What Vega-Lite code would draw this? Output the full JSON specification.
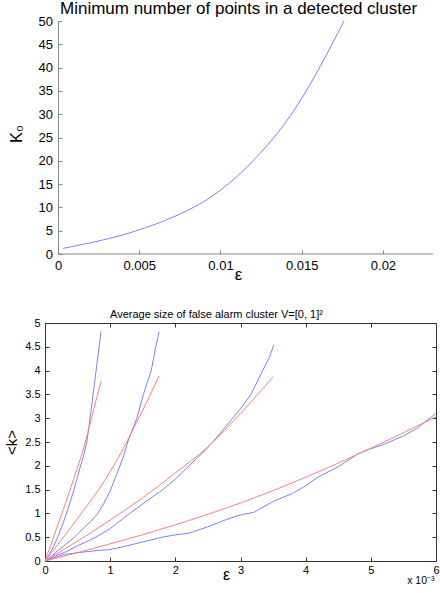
{
  "$schema": "https://vega.github.io/schema/vega-lite/v6.json",
  "padding": {"left": 4, "top": 0, "right": 0, "bottom": 0},
  "background": "white",
  "spacing": 26,
  "config": {
    "view": {"stroke": null},
    "font": "Liberation Sans",
    "axis": {"labelFont": "Liberation Sans", "titleFont": "Liberation Sans", "grid": false, "labelColor": "#000", "titleColor": "#000", "titleFontWeight": "normal", "labelFlush": false, "labelOverlap": false}
  },
  "datasets": {
    "top": [
      {"eps": 0.0003, "K": 1.2}, {"eps": 0.001, "K": 1.7}, {"eps": 0.002, "K": 2.4}, {"eps": 0.003, "K": 3.2},
      {"eps": 0.004, "K": 4.1}, {"eps": 0.005, "K": 5.2}, {"eps": 0.006, "K": 6.4}, {"eps": 0.007, "K": 7.8},
      {"eps": 0.008, "K": 9.4}, {"eps": 0.009, "K": 11.3}, {"eps": 0.010, "K": 13.7}, {"eps": 0.011, "K": 16.6},
      {"eps": 0.012, "K": 20.0}, {"eps": 0.013, "K": 23.8}, {"eps": 0.014, "K": 28.2}, {"eps": 0.015, "K": 33.4},
      {"eps": 0.016, "K": 39.4}, {"eps": 0.017, "K": 45.9}, {"eps": 0.0176, "K": 50.0}
    ],
    "bottom": [
      {"set": "1", "type": "sim", "x": 0, "k": 0}, {"set": "1", "type": "sim", "x": 0.05, "k": 0.1},
      {"set": "1", "type": "sim", "x": 0.1, "k": 0.22}, {"set": "1", "type": "sim", "x": 0.15, "k": 0.36},
      {"set": "1", "type": "sim", "x": 0.2, "k": 0.52}, {"set": "1", "type": "sim", "x": 0.25, "k": 0.7},
      {"set": "1", "type": "sim", "x": 0.3, "k": 0.88}, {"set": "1", "type": "sim", "x": 0.35, "k": 1.08},
      {"set": "1", "type": "sim", "x": 0.4, "k": 1.3}, {"set": "1", "type": "sim", "x": 0.45, "k": 1.52},
      {"set": "1", "type": "sim", "x": 0.5, "k": 1.77}, {"set": "1", "type": "sim", "x": 0.55, "k": 2.02},
      {"set": "1", "type": "sim", "x": 0.6, "k": 2.25}, {"set": "1", "type": "sim", "x": 0.64, "k": 2.5},
      {"set": "1", "type": "sim", "x": 0.67, "k": 2.77}, {"set": "1", "type": "sim", "x": 0.7, "k": 3.1},
      {"set": "1", "type": "sim", "x": 0.75, "k": 3.63}, {"set": "1", "type": "sim", "x": 0.8, "k": 4.17},
      {"set": "1", "type": "sim", "x": 0.86, "k": 4.82},
      {"set": "1", "type": "theory", "x": 0, "k": 0}, {"set": "1", "type": "theory", "x": 0.1, "k": 0.38},
      {"set": "1", "type": "theory", "x": 0.2, "k": 0.77}, {"set": "1", "type": "theory", "x": 0.3, "k": 1.16},
      {"set": "1", "type": "theory", "x": 0.4, "k": 1.56}, {"set": "1", "type": "theory", "x": 0.5, "k": 1.97},
      {"set": "1", "type": "theory", "x": 0.6, "k": 2.4}, {"set": "1", "type": "theory", "x": 0.67, "k": 2.77},
      {"set": "1", "type": "theory", "x": 0.75, "k": 3.2}, {"set": "1", "type": "theory", "x": 0.86, "k": 3.77},

      {"set": "2", "type": "sim", "x": 0, "k": 0}, {"set": "2", "type": "sim", "x": 0.1, "k": 0.1},
      {"set": "2", "type": "sim", "x": 0.2, "k": 0.22}, {"set": "2", "type": "sim", "x": 0.32, "k": 0.35},
      {"set": "2", "type": "sim", "x": 0.45, "k": 0.5}, {"set": "2", "type": "sim", "x": 0.6, "k": 0.7},
      {"set": "2", "type": "sim", "x": 0.7, "k": 0.83}, {"set": "2", "type": "sim", "x": 0.8, "k": 0.98},
      {"set": "2", "type": "sim", "x": 0.9, "k": 1.2}, {"set": "2", "type": "sim", "x": 1.0, "k": 1.47},
      {"set": "2", "type": "sim", "x": 1.1, "k": 1.82}, {"set": "2", "type": "sim", "x": 1.2, "k": 2.18},
      {"set": "2", "type": "sim", "x": 1.27, "k": 2.5}, {"set": "2", "type": "sim", "x": 1.34, "k": 2.75},
      {"set": "2", "type": "sim", "x": 1.41, "k": 3.0}, {"set": "2", "type": "sim", "x": 1.51, "k": 3.5},
      {"set": "2", "type": "sim", "x": 1.57, "k": 3.75}, {"set": "2", "type": "sim", "x": 1.63, "k": 4.0},
      {"set": "2", "type": "sim", "x": 1.7, "k": 4.5}, {"set": "2", "type": "sim", "x": 1.75, "k": 4.82},
      {"set": "2", "type": "theory", "x": 0, "k": 0}, {"set": "2", "type": "theory", "x": 0.2, "k": 0.35},
      {"set": "2", "type": "theory", "x": 0.4, "k": 0.71}, {"set": "2", "type": "theory", "x": 0.6, "k": 1.08},
      {"set": "2", "type": "theory", "x": 0.83, "k": 1.51}, {"set": "2", "type": "theory", "x": 1.0, "k": 1.88},
      {"set": "2", "type": "theory", "x": 1.2, "k": 2.36}, {"set": "2", "type": "theory", "x": 1.4, "k": 2.9},
      {"set": "2", "type": "theory", "x": 1.6, "k": 3.45}, {"set": "2", "type": "theory", "x": 1.75, "k": 3.89},

      {"set": "3", "type": "sim", "x": 0, "k": 0}, {"set": "3", "type": "sim", "x": 0.15, "k": 0.1},
      {"set": "3", "type": "sim", "x": 0.3, "k": 0.18}, {"set": "3", "type": "sim", "x": 0.5, "k": 0.32},
      {"set": "3", "type": "sim", "x": 0.78, "k": 0.5}, {"set": "3", "type": "sim", "x": 1.0, "k": 0.68},
      {"set": "3", "type": "sim", "x": 1.3, "k": 1.0}, {"set": "3", "type": "sim", "x": 1.55, "k": 1.25},
      {"set": "3", "type": "sim", "x": 1.81, "k": 1.5}, {"set": "3", "type": "sim", "x": 2.0, "k": 1.72},
      {"set": "3", "type": "sim", "x": 2.21, "k": 2.0}, {"set": "3", "type": "sim", "x": 2.5, "k": 2.38},
      {"set": "3", "type": "sim", "x": 2.7, "k": 2.7}, {"set": "3", "type": "sim", "x": 2.88, "k": 3.0},
      {"set": "3", "type": "sim", "x": 3.0, "k": 3.2}, {"set": "3", "type": "sim", "x": 3.16, "k": 3.5},
      {"set": "3", "type": "sim", "x": 3.34, "k": 4.0}, {"set": "3", "type": "sim", "x": 3.45, "k": 4.3},
      {"set": "3", "type": "sim", "x": 3.51, "k": 4.54},
      {"set": "3", "type": "theory", "x": 0, "k": 0}, {"set": "3", "type": "theory", "x": 0.5, "k": 0.42},
      {"set": "3", "type": "theory", "x": 1.0, "k": 0.86}, {"set": "3", "type": "theory", "x": 1.5, "k": 1.33},
      {"set": "3", "type": "theory", "x": 2.0, "k": 1.85}, {"set": "3", "type": "theory", "x": 2.5, "k": 2.4},
      {"set": "3", "type": "theory", "x": 3.0, "k": 3.1}, {"set": "3", "type": "theory", "x": 3.5, "k": 3.87},

      {"set": "4", "type": "sim", "x": 0, "k": 0}, {"set": "4", "type": "sim", "x": 0.3, "k": 0.14},
      {"set": "4", "type": "sim", "x": 0.6, "k": 0.19}, {"set": "4", "type": "sim", "x": 0.8, "k": 0.22},
      {"set": "4", "type": "sim", "x": 1.0, "k": 0.24}, {"set": "4", "type": "sim", "x": 1.2, "k": 0.3},
      {"set": "4", "type": "sim", "x": 1.5, "k": 0.4}, {"set": "4", "type": "sim", "x": 1.8, "k": 0.5},
      {"set": "4", "type": "sim", "x": 2.0, "k": 0.55}, {"set": "4", "type": "sim", "x": 2.2, "k": 0.58},
      {"set": "4", "type": "sim", "x": 2.5, "k": 0.72}, {"set": "4", "type": "sim", "x": 2.8, "k": 0.88},
      {"set": "4", "type": "sim", "x": 3.0, "k": 0.97}, {"set": "4", "type": "sim", "x": 3.2, "k": 1.02},
      {"set": "4", "type": "sim", "x": 3.5, "k": 1.25}, {"set": "4", "type": "sim", "x": 3.8, "k": 1.42},
      {"set": "4", "type": "sim", "x": 4.0, "k": 1.58}, {"set": "4", "type": "sim", "x": 4.2, "k": 1.77},
      {"set": "4", "type": "sim", "x": 4.5, "k": 1.98}, {"set": "4", "type": "sim", "x": 4.8, "k": 2.25},
      {"set": "4", "type": "sim", "x": 5.0, "k": 2.36}, {"set": "4", "type": "sim", "x": 5.2, "k": 2.45},
      {"set": "4", "type": "sim", "x": 5.5, "k": 2.63}, {"set": "4", "type": "sim", "x": 5.7, "k": 2.78},
      {"set": "4", "type": "sim", "x": 6.0, "k": 3.1},
      {"set": "4", "type": "theory", "x": 0, "k": 0}, {"set": "4", "type": "theory", "x": 1.0, "k": 0.36},
      {"set": "4", "type": "theory", "x": 2.0, "k": 0.76}, {"set": "4", "type": "theory", "x": 3.0, "k": 1.22},
      {"set": "4", "type": "theory", "x": 4.0, "k": 1.76}, {"set": "4", "type": "theory", "x": 5.0, "k": 2.37},
      {"set": "4", "type": "theory", "x": 6.0, "k": 3.03}
    ]
  },
  "vconcat": [
    {
      "width": 388,
      "height": 233,
      "title": {"text": "Minimum number of points in a detected cluster", "fontSize": 17, "fontWeight": "normal", "font": "Liberation Sans", "anchor": "start", "frame": "group", "dx": 15, "offset": -16, "baseline": "alphabetic", "color": "#000"},
      "data": {"name": "top"},
      "layer": [
        {
          "mark": {"type": "line", "color": "#8080ff", "strokeWidth": 1, "interpolate": "monotone"},
          "encoding": {
            "x": {
              "field": "eps", "type": "quantitative",
              "scale": {"domain": [-0.0008, 0.02308], "nice": false, "zero": false},
              "axis": {"values": [0, 0.005, 0.01, 0.015, 0.02], "format": "~g", "domain": false, "title": "ε", "titleFontSize": 17, "titleX": 193, "titleY": 25.5, "titleBaseline": "alphabetic", "titleAlign": "center", "labelFontSize": 13, "tickSize": -4, "labelPadding": 9, "tickColor": "#888"}
            },
            "y": {
              "field": "K", "type": "quantitative",
              "scale": {"domain": [0, 50], "nice": false},
              "axis": {"offset": -13, "values": [0, 5, 10, 15, 20, 25, 30, 35, 40, 45, 50], "tickCount": 11, "title": "K₀", "titleFontSize": 16.5, "titleX": -36.5, "titleY": 112.5, "titleAngle": 270, "titleBaseline": "alphabetic", "titleAlign": "center", "labelFontSize": 13, "tickSize": -4, "labelPadding": 9.5, "domainColor": "#888", "tickColor": "#888"}
            }
          }
        },
        {
          "data": {"values": [{}]},
          "mark": {"type": "rule", "color": "#888", "strokeWidth": 1},
          "encoding": {
            "x": {
              "datum": 0,
              "scale": {"domain": [-0.0008, 0.02308], "nice": false, "zero": false},
              "axis": {"values": [0, 0.005, 0.01, 0.015, 0.02], "format": "~g", "domain": false, "title": "ε", "titleFontSize": 17, "titleX": 193, "titleY": 25.5, "titleBaseline": "alphabetic", "titleAlign": "center", "labelFontSize": 13, "tickSize": -4, "labelPadding": 9, "tickColor": "#888"}
            },
            "x2": {"datum": 0.02308},
            "y": {
              "datum": 0,
              "scale": {"domain": [0, 50], "nice": false},
              "axis": {"offset": -13, "values": [0, 5, 10, 15, 20, 25, 30, 35, 40, 45, 50], "tickCount": 11, "title": "K₀", "titleFontSize": 16.5, "titleX": -36.5, "titleY": 112.5, "titleAngle": 270, "titleBaseline": "alphabetic", "titleAlign": "center", "labelFontSize": 13, "tickSize": -4, "labelPadding": 9.5, "domainColor": "#888", "tickColor": "#888"}
            }
          }
        }
      ]
    },
    {
      "width": 391,
      "height": 238,
      "title": {"text": "Average size of false alarm cluster V=[0, 1]²", "fontSize": 11, "fontWeight": "normal", "font": "Liberation Sans", "anchor": "start", "frame": "group", "dx": 65, "offset": -12, "baseline": "alphabetic", "color": "#000"},
      "data": {"name": "bottom"},
      "resolve": {"axis": {"x": "independent", "y": "independent"}},
      "layer": [
        {
          "transform": [{"filter": "datum.type === 'sim'"}],
          "mark": {"type": "line", "strokeWidth": 1, "color": "#8080ff"},
          "encoding": {
            "x": {
              "field": "x", "type": "quantitative",
              "scale": {"domain": [0, 6], "nice": false},
              "axis": {"orient": "bottom", "values": [0, 1, 2, 3, 4, 5, 6], "title": "ε", "titleFontSize": 16, "titleX": 181, "titleY": 18, "titleBaseline": "alphabetic", "titleAlign": "center", "labelFontSize": 11, "tickSize": -4, "labelPadding": 7, "domainColor": "#333", "tickColor": "#333"}
            },
            "y": {
              "field": "k", "type": "quantitative",
              "scale": {"domain": [0, 5], "nice": false},
              "axis": {"orient": "left", "values": [0, 0.5, 1, 1.5, 2, 2.5, 3, 3.5, 4, 4.5, 5], "format": ".1~f", "title": "<k>", "titleFontSize": 15, "titleX": -29, "titleY": 119, "titleAngle": 270, "titleBaseline": "alphabetic", "titleAlign": "center", "labelFontSize": 11, "tickSize": -4, "labelPadding": 9, "domainColor": "#333", "tickColor": "#333"}
            },
            "detail": {"field": "set", "type": "nominal"}
          }
        },
        {
          "transform": [{"filter": "datum.type === 'theory'"}],
          "mark": {"type": "line", "strokeWidth": 1, "color": "#ff8080", "interpolate": "monotone"},
          "encoding": {
            "x": {"field": "x", "type": "quantitative", "axis": null},
            "y": {"field": "k", "type": "quantitative", "axis": null},
            "detail": {"field": "set", "type": "nominal"}
          }
        },
        {
          "mark": {"type": "point", "opacity": 0},
          "encoding": {
            "x": {
              "field": "x", "type": "quantitative",
              "axis": {"orient": "top", "values": [0, 1, 2, 3, 4, 5, 6], "labels": false, "title": "x 10⁻³", "titleFontSize": 10.5, "titleX": 389, "titleY": 260, "titleBaseline": "alphabetic", "titleAlign": "right", "tickSize": -4, "domainColor": "#333", "tickColor": "#333"}
            },
            "y": {
              "field": "k", "type": "quantitative",
              "axis": {"orient": "right", "values": [0, 0.5, 1, 1.5, 2, 2.5, 3, 3.5, 4, 4.5, 5], "labels": false, "title": null, "tickSize": -4, "domainColor": "#333", "tickColor": "#333"}
            }
          }
        }
      ]
    }
  ]
}
